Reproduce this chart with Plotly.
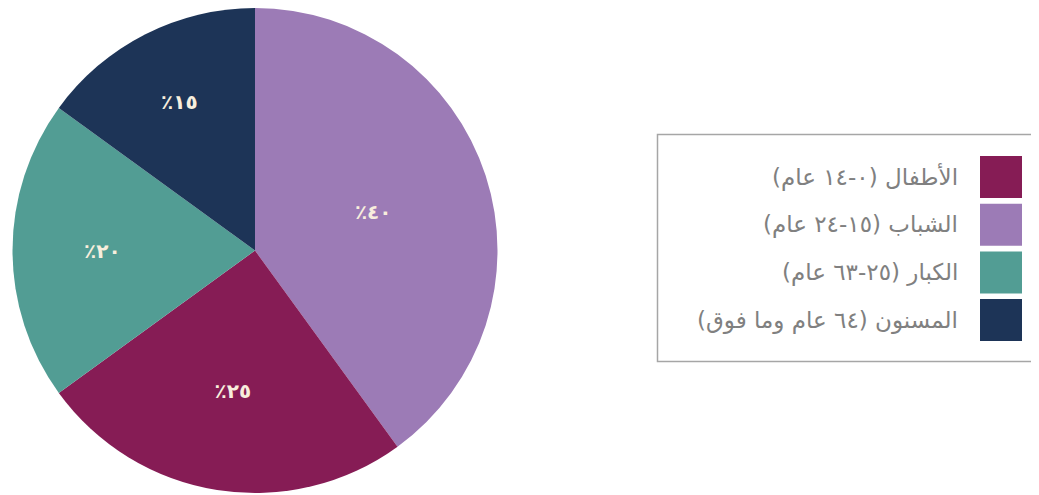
import plotly.graph_objects as go

# Data (legend order)
categories = ["الأطفال (٠-١٤ عام)", "الشباب (١٥-٢٤ عام)", "الكبار (٢٥-٦٣ عام)", "المسنون (٦٤ عام وما فوق)"]
values = [25, 40, 20, 15]
colors = ["#861c55", "#9c7bb6", "#529d94", "#1d3457"]
# Order in which slices are drawn clockwise from 12 o'clock
pie_order = [1, 0, 2, 3]

AR_DIGITS = str.maketrans("0123456789", "٠١٢٣٤٥٦٧٨٩")

def ar_pct(v):
    return "٪" + str(v).translate(AR_DIGITS)

pie_labels = [categories[i] for i in pie_order]
pie_values = [values[i] for i in pie_order]
pie_colors = [colors[i] for i in pie_order]
pie_text = [ar_pct(v) for v in pie_values]

W, H = 1039, 495
MB = 10
PH = H - MB  # plot-area height (paper coords span this)
OFF = 8  # page body offset
fig = go.Figure()
fig.add_trace(go.Pie(
    labels=pie_labels,
    values=pie_values,
    text=pie_text,
    texttemplate="%{text}",
    textposition="inside",
    insidetextorientation="horizontal",
    sort=False,
    direction="clockwise",
    rotation=0,
    marker=dict(colors=pie_colors, line=dict(width=0)),
    textfont=dict(family="DejaVu Sans", size=20, color="#f8eedd", weight="bold"),
    showlegend=False,
    hoverinfo="label+percent",
    domain=dict(x=[4.5 / W, 489.5 / W], y=[0, 1]),
))

def px(x):
    return (x - OFF) / W

def py(y):
    return 1 - (y - OFF) / PH

# Custom right-to-left legend
shapes = []
annotations = []
shapes.append(dict(type="rect", xref="paper", yref="paper",
                   x0=px(657.5), x1=1.05, y0=py(361.5), y1=py(134.5),
                   line=dict(color="#a6a6a6", width=1.5), fillcolor="rgba(0,0,0,0)", layer="above"))
row_top0, row_step, sq = 156, 47.7, 42
for i, (cat, col) in enumerate(zip(categories, colors)):
    y0 = row_top0 + i * row_step
    shapes.append(dict(type="rect", xref="paper", yref="paper",
                       x0=px(980), x1=px(1022),
                       y0=py(y0 + sq), y1=py(y0),
                       line=dict(width=0), fillcolor=col))
    annotations.append(dict(
        xref="paper", yref="paper", x=px(960), y=py(y0 + sq / 2),
        xanchor="right", yanchor="middle", showarrow=False,
        text="\u200f" + cat + "\u200f",
        font=dict(family="DejaVu Sans", size=23, color="#808080"),
    ))

fig.update_layout(
    width=W, height=H,
    margin=dict(l=0, r=0, t=0, b=MB),
    paper_bgcolor="white", plot_bgcolor="white",
    shapes=shapes, annotations=annotations,
)
fig.write_html("out.html")
